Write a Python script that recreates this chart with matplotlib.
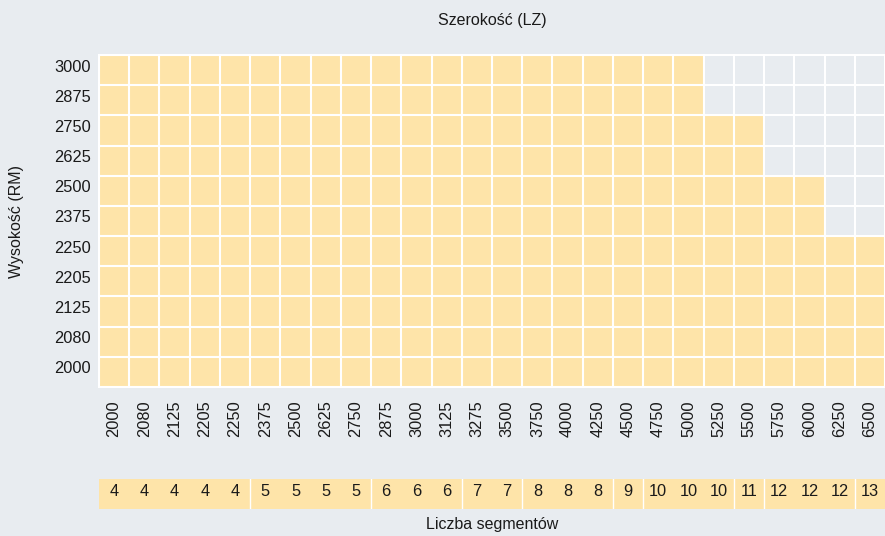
import matplotlib
matplotlib.use("Agg")
import matplotlib.pyplot as plt
import matplotlib.transforms as mtransforms

# data
widths = [2000, 2080, 2125, 2205, 2250, 2375, 2500, 2625, 2750, 2875, 3000, 3125, 3275,
          3500, 3750, 4000, 4250, 4500, 4750, 5000, 5250, 5500, 5750, 6000, 6250, 6500]
heights = [2000, 2080, 2125, 2205, 2250, 2375, 2500, 2625, 2750, 2875, 3000]
max_height = [3000] * 20 + [2750, 2750, 2500, 2500, 2250, 2250]
segments = [4, 4, 4, 4, 4, 5, 5, 5, 5, 6, 6, 6, 7, 7, 8, 8, 8, 9, 10, 10, 10, 11, 12, 12, 12, 13]

BG = "#e8ecf0"
FILL = "#fee4a9"
TXT = "#1a1a1a"

plt.rcParams['font.family'] = ['Liberation Sans', 'DejaVu Sans']
plt.rcParams['font.size'] = 11.8

W, H = 885, 536
fig = plt.figure(figsize=(W / 100, H / 100), dpi=100, facecolor=BG)
up = mtransforms.ScaledTranslation(0, 3 / 100, fig.dpi_scale_trans)

# main grid
gl, gr, gt, gb = 99, 885, 55, 387
ax = fig.add_axes([gl / W, 1 - gb / H, (gr - gl) / W, (gb - gt) / H])
ax.set_facecolor(BG)
ncol, nrow = len(widths), len(heights)
counts = [heights.index(m) + 1 for m in max_height]
ax.bar(range(ncol), counts, width=1, align='edge', color=FILL, linewidth=0)
for i in range(ncol + 1):
    ax.axvline(i, color='white', lw=1.5, clip_on=False)
for j in range(nrow + 1):
    ax.axhline(j, color='white', lw=1.5, clip_on=False)
ax.set_xlim(0, ncol)
ax.set_ylim(0, nrow)
for s in ax.spines.values():
    s.set_visible(False)
ax.set_xticks([i + 0.5 for i in range(ncol)])
ax.set_xticklabels([str(w) for w in widths], rotation=90, va='top', color=TXT)
ax.set_yticks([])
ax.tick_params(axis='x', length=0, pad=9.5)

# y labels as texts (slightly above row centres, like the original)
ylab_tr = mtransforms.blended_transform_factory(fig.transFigure, ax.transData) + up
for j, h in enumerate(heights):
    fig.text(91 / W, j + 0.5, str(h), ha='right', va='center', color=TXT,
             transform=ylab_tr)

fig.text((gl + gr) / 2 / W, 1 - 20 / H, "Szerokość (LZ)", ha='center', va='center',
         fontsize=11.5, color=TXT)
fig.text(17 / W, 1 - (gt + gb) / 2 / H, "Wysokość (RM)", ha='center', va='center',
         rotation=90, fontsize=11.5, color=TXT)

# segments row
st, sb = 479, 509
ax2 = fig.add_axes([gl / W, 1 - sb / H, (gr - gl) / W, (sb - st) / H])
ax2.set_facecolor(FILL)
ax2.set_xlim(0, ncol)
ax2.set_ylim(0, 1)
for i, s in enumerate(segments):
    t = ax2.text(i + 0.5, 0.5, str(s), ha='center', va='center', color=TXT)
    t.set_transform(t.get_transform() + up)
    if i > 0 and segments[i - 1] != s:
        ax2.axvline(i, color='white', lw=1.0)
ax2.set_xticks([])
ax2.set_yticks([])
for s in ax2.spines.values():
    s.set_visible(False)

fig.text((gl + gr) / 2 / W, 1 - 525 / H, "Liczba segmentów", ha='center', va='center',
         fontsize=11.5, color=TXT)

fig.savefig("out.png", dpi=100, facecolor=BG)
